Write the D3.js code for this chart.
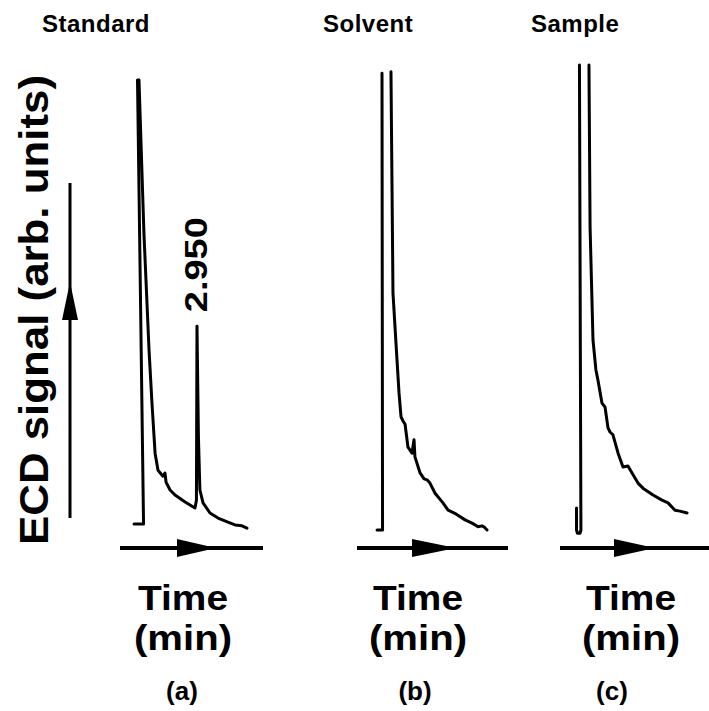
<!DOCTYPE html>
<html>
<head>
<meta charset="utf-8">
<script src="https://cdn.jsdelivr.net/npm/d3@7"></script>
<style>
  html, body { margin: 0; padding: 0; background: #fff; }
  svg { display: block; }
  text { font-family: "Liberation Sans", Arial, Helvetica, sans-serif; font-weight: bold; fill: #000; }
</style>
</head>
<body>
<script>
// ECD chromatograms: standard, solvent blank and sample (time in min, signal in arb. units)
const panelNames = ["Standard", "Solvent", "Sample"];
const panelTags = ["(a)", "(b)", "(c)"];
const axisTitle = "ECD signal (arb. units)";
const timeTitle = ["Time", "(min)"];

// Retention time of the labelled standard peak
const peakTime = 2.950;

// Standard trace (null entries break the pen trace where it runs off scale)
const stdTime   = [-0.49, 0.03, -0.30, -0.22, 0.05, 0.33, 0.49, 0.66, 0.82, 1.09, 1.20, 1.26, 1.48, 1.75, 2.30, 2.84, 2.92, 2.950, 3.03, 3.11, 3.28, 3.66, 4.10, 4.64, 5.03, 5.41, 5.68];
const stdSignal = [1.3, 1.3, 97.8, 97.8, 64.6, 39.1, 27.6, 16.7, 13.0, 11.7, 12.4, 10.4, 8.7, 7.6, 6.1, 4.8, 6.5, 44.3, 20.0, 8.7, 5.9, 3.7, 2.6, 1.7, 1.1, 0.9, 0.4];

// Solvent blank trace
const solvTime   = [-0.27, 0.03, 0.00, null, 0.49, 0.60, 0.82, 0.93, 1.04, 1.15, 1.26, 1.42, 1.64, 1.75, 1.80, 2.08, 2.30, 2.46, 2.62, 2.90, 3.33, 3.61, 4.04, 4.54, 4.92, 5.25, 5.46, 5.57, 5.74];
const solvSignal = [0, 0, 99.3, null, 99.6, 51.5, 37.0, 29.8, 24.6, 23.7, 23.0, 18.0, 16.7, 19.6, 15.9, 12.4, 11.1, 10.9, 10.2, 8.0, 5.9, 4.3, 3.5, 2.2, 1.5, 0.7, 0.9, 0.7, 0];

// Sample trace
const sampTime   = [-0.19, -0.19, -0.14, 0.00, 0.05, -0.03, null, 0.49, 0.55, 0.71, 0.87, 0.98, 1.20, 1.37, 1.53, 1.64, 1.80, 2.08, 2.35, 2.62, 2.90, 3.17, 3.44, 3.99, 4.48, 4.81, 5.19, 5.46, 5.85];
const sampSignal = [4.8, 0, -0.7, -0.7, 0, 101.1, null, 101.1, 65.9, 41.3, 34.8, 32.6, 27.6, 26.7, 22.2, 21.3, 20.7, 16.7, 13.7, 13.9, 12.0, 10.2, 9.1, 7.6, 6.5, 5.9, 4.3, 4.1, 3.7];

const W = 709, H = 711;
const svg = d3.select("body").append("svg").attr("width", W).attr("height", H);

// shared signal scale
const y = d3.scaleLinear().domain([0, 100]).range([530, 70]);
const pxPerMin = 18.3;

// layout of the three panels: injection position, title, time arrow and labels
const layout = [
  { inj: 143, titleX: 42,  arrow: [120, 263], head: [177, 216], timeX: 183, tagX: 182 },
  { inj: 382, titleX: 323, arrow: [357, 508], head: [412, 456], timeX: 418, tagX: 415 },
  { inj: 580, titleX: 531, arrow: [560, 709], head: [614, 655], timeX: 631, tagX: 612 }
];

const traces = [
  d3.zip(stdTime, stdSignal),
  d3.zip(solvTime, solvSignal),
  d3.zip(sampTime, sampSignal)
];

const arrowY = 548;

layout.forEach((p, i) => {
  const x = d3.scaleLinear().domain([0, 1]).range([p.inj, p.inj + pxPerMin]);
  const g = svg.append("g");

  const line = d3.line()
    .defined(d => d[0] != null && d[1] != null)
    .x(d => x(d[0]))
    .y(d => y(d[1]));

  g.append("path")
    .datum(traces[i])
    .attr("d", line)
    .attr("fill", "none")
    .attr("stroke", "#000")
    .attr("stroke-width", 3)
    .attr("stroke-linejoin", "round")
    .attr("stroke-linecap", "round");

  // panel title
  svg.append("text")
    .attr("x", p.titleX).attr("y", 32)
    .attr("font-size", 24)
    .attr("letter-spacing", 0.5)
    .text(panelNames[i]);

  // time arrow
  svg.append("line")
    .attr("x1", p.arrow[0]).attr("x2", p.arrow[1])
    .attr("y1", arrowY).attr("y2", arrowY)
    .attr("stroke", "#000").attr("stroke-width", 4);
  svg.append("path")
    .attr("d", `M${p.head[0]},${arrowY - 9}L${p.head[1]},${arrowY}L${p.head[0]},${arrowY + 9}Z`)
    .attr("fill", "#000");

  // time labels
  svg.append("text")
    .attr("x", p.timeX).attr("y", 610)
    .attr("text-anchor", "middle")
    .attr("font-size", 35)
    .attr("textLength", 90)
    .attr("lengthAdjust", "spacingAndGlyphs")
    .text(timeTitle[0]);
  svg.append("text")
    .attr("x", p.timeX).attr("y", 650)
    .attr("text-anchor", "middle")
    .attr("font-size", 35)
    .attr("textLength", 98)
    .attr("lengthAdjust", "spacingAndGlyphs")
    .text(timeTitle[1]);

  svg.append("text")
    .attr("x", p.tagX).attr("y", 700)
    .attr("text-anchor", "middle")
    .attr("font-size", 26)
    .text(panelTags[i]);

  // retention time label above the standard peak
  if (i === 0) {
    const idx = stdTime.indexOf(peakTime);
    const px = x(peakTime), py = y(stdSignal[idx]);
    svg.append("text")
      .attr("transform", `translate(${px + 10},${py - 14}) rotate(-90)`)
      .attr("font-size", 31)
      .attr("textLength", 95)
      .attr("lengthAdjust", "spacingAndGlyphs")
      .text(d3.format(".3f")(peakTime));
  }
});

// signal axis arrow
svg.append("line")
  .attr("x1", 70).attr("x2", 70).attr("y1", 518).attr("y2", 183)
  .attr("stroke", "#000").attr("stroke-width", 3);
svg.append("path")
  .attr("d", "M62,320L70,282L78,320Z")
  .attr("fill", "#000");

// signal axis title
svg.append("text")
  .attr("transform", "translate(48,310) rotate(-90)")
  .attr("text-anchor", "middle")
  .attr("font-size", 40)
  .attr("textLength", 470)
  .attr("lengthAdjust", "spacingAndGlyphs")
  .text(axisTitle);
</script>
</body>
</html>
